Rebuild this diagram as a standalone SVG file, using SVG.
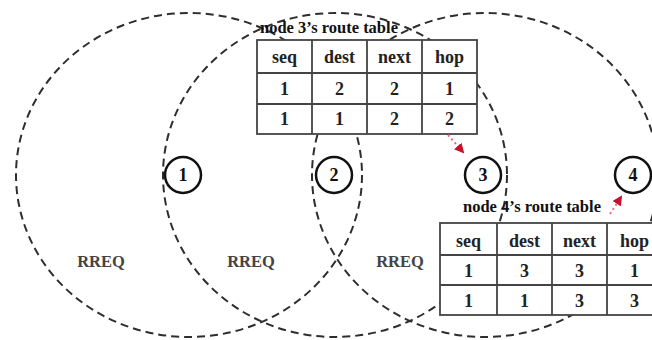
<svg xmlns="http://www.w3.org/2000/svg" width="652" height="340" viewBox="0 0 652 340">
<style>
.range{fill:none;stroke:#2e2e2e;stroke-width:2;stroke-dasharray:8 5}
.cell{fill:#fff;stroke:#444;stroke-width:1.8}
.grid{stroke:#444;stroke-width:1.8;fill:none}
.ttl{font-family:"Liberation Serif",serif;font-weight:bold;font-size:16.5px;fill:#111}
.tt{font-family:"Liberation Serif",serif;font-weight:bold;font-size:18px;fill:#222;text-anchor:middle}
.nd{fill:#fff;stroke:#111;stroke-width:2.5}
.nl{font-family:"Liberation Serif",serif;font-weight:bold;font-size:18px;fill:#111;text-anchor:middle}
.rr{font-family:"Liberation Serif",serif;font-weight:bold;font-size:16.5px;fill:#444;text-anchor:middle}
.red{fill:none;stroke:#e6707a;stroke-width:2;stroke-dasharray:2 3}
</style>
<defs>
<marker id="ah" viewBox="0 0 10 10" refX="8" refY="5" markerWidth="5" markerHeight="5" orient="auto">
<path d="M0,0 L10,5 L0,10 z" fill="#c8102e"/>
</marker>
</defs>
<g id="ranges">
<ellipse class="range" cx="189" cy="175" rx="173" ry="162"/>
<ellipse class="range" cx="335" cy="175" rx="172" ry="162"/>
<ellipse class="range" cx="485" cy="175" rx="173" ry="162"/>
</g>
<g id="rreq-labels">
<text class="rr" x="101" y="267">RREQ</text>
<text class="rr" x="251" y="267">RREQ</text>
<text class="rr" x="400" y="267">RREQ</text>
</g>
<g id="table3">
<text class="ttl" x="260" y="33">node 3’s route table</text>
<rect class="cell" x="257" y="40" width="220" height="94"/>
<path class="grid" d="M257,73 H477 M257,104 H477 M312,40 V134 M367,40 V134 M422,40 V134"/>
<text class="tt" x="284.5" y="63">seq</text>
<text class="tt" x="339.5" y="63">dest</text>
<text class="tt" x="394.5" y="63">next</text>
<text class="tt" x="449.5" y="63">hop</text>
<text class="tt" x="284.5" y="95">1</text>
<text class="tt" x="339.5" y="95">2</text>
<text class="tt" x="394.5" y="95">2</text>
<text class="tt" x="449.5" y="95">1</text>
<text class="tt" x="284.5" y="125">1</text>
<text class="tt" x="339.5" y="125">1</text>
<text class="tt" x="394.5" y="125">2</text>
<text class="tt" x="449.5" y="125">2</text>
</g>
<g id="table4">
<text class="ttl" x="463" y="212">node 4’s route table</text>
<rect class="cell" x="440" y="223" width="222" height="92"/>
<path class="grid" d="M440,255 H662 M440,285 H662 M497,223 V315 M552,223 V315 M607,223 V315"/>
<text class="tt" x="468.5" y="247">seq</text>
<text class="tt" x="524.5" y="247">dest</text>
<text class="tt" x="579.5" y="247">next</text>
<text class="tt" x="634.5" y="247">hop</text>
<text class="tt" x="468.5" y="277">1</text>
<text class="tt" x="524.5" y="277">3</text>
<text class="tt" x="579.5" y="277">3</text>
<text class="tt" x="634.5" y="277">1</text>
<text class="tt" x="468.5" y="307">1</text>
<text class="tt" x="524.5" y="307">1</text>
<text class="tt" x="579.5" y="307">3</text>
<text class="tt" x="634.5" y="307">3</text>
</g>
<g id="node1"><circle class="nd" cx="183" cy="175" r="18"/><text class="nl" x="183" y="181">1</text></g>
<g id="node2"><circle class="nd" cx="334" cy="175" r="18"/><text class="nl" x="334" y="181">2</text></g>
<g id="node3"><circle class="nd" cx="483" cy="175" r="18"/><text class="nl" x="483" y="181">3</text></g>
<g id="node4"><circle class="nd" cx="633" cy="175" r="18"/><text class="nl" x="633" y="181">4</text></g>
<g id="connectors">
<path class="red" d="M448,135 L463,152" marker-end="url(#ah)"/>
<path class="red" d="M610,214 L621,197" marker-end="url(#ah)"/>
</g>
</svg>
